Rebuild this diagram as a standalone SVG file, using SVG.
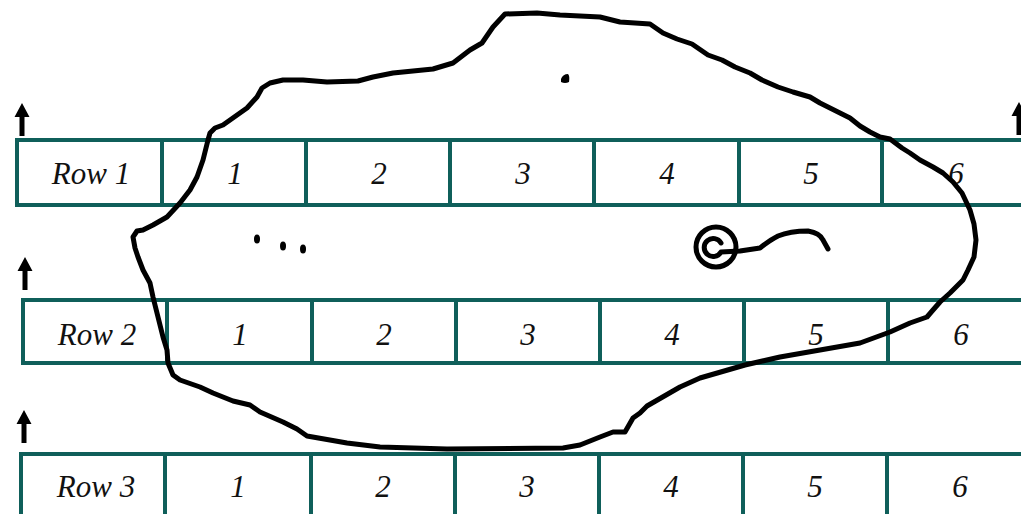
<svg xmlns="http://www.w3.org/2000/svg" width="1021" height="514" viewBox="0 0 1021 514">
<style>
.cell{fill:#ffffff;stroke:#0f5f5a;stroke-width:4}
.div{stroke:#0f5f5a;stroke-width:4}
.t{font-family:"Liberation Serif",serif;font-style:italic;font-size:31px;fill:#111;text-anchor:middle}
.ink{fill:none;stroke:#000;stroke-width:5;stroke-linejoin:round;stroke-linecap:round}
.arr{fill:#000}
</style>
<defs>
<path id="arrow" d="M0,0 L7.5,14 L2.5,14 L2.5,33 L-2.5,33 L-2.5,14 L-7.5,14 Z"/>
</defs>
<rect width="1021" height="514" fill="#ffffff"/>

<g id="row1">
<rect class="cell" x="17" y="140" width="1020" height="65"/>
<path class="div" d="M162,140V205M306,140V205M450,140V205M594,140V205M739,140V205M882,140V205"/>
<text class="t" x="91" y="184">Row 1</text>
<text class="t" x="235" y="184">1</text>
<text class="t" x="379" y="184">2</text>
<text class="t" x="523" y="184">3</text>
<text class="t" x="667" y="184">4</text>
<text class="t" x="811" y="184">5</text>
<text class="t" x="956" y="184">6</text>
</g>

<g id="row2">
<rect class="cell" x="23" y="300" width="1020" height="63"/>
<path class="div" d="M167,300V363M312,300V363M456,300V363M600,300V363M744,300V363M888,300V363"/>
<text class="t" x="97" y="345">Row 2</text>
<text class="t" x="240" y="345">1</text>
<text class="t" x="384" y="345">2</text>
<text class="t" x="528" y="345">3</text>
<text class="t" x="672" y="345">4</text>
<text class="t" x="816" y="345">5</text>
<text class="t" x="961" y="345">6</text>
</g>

<g id="row3">
<rect class="cell" x="21" y="454" width="1020" height="70"/>
<path class="div" d="M165,454V524M311,454V524M455,454V524M599,454V524M743,454V524M887,454V524"/>
<text class="t" x="96" y="497">Row 3</text>
<text class="t" x="238" y="497">1</text>
<text class="t" x="383" y="497">2</text>
<text class="t" x="527" y="497">3</text>
<text class="t" x="671" y="497">4</text>
<text class="t" x="815" y="497">5</text>
<text class="t" x="960" y="497">6</text>
</g>

<g id="arrows">
<use href="#arrow" class="arr" x="22" y="103"/>
<use href="#arrow" class="arr" x="25" y="257"/>
<use href="#arrow" class="arr" x="24" y="410"/>
<use href="#arrow" class="arr" x="1019" y="102"/>
</g>

<g id="outline">
<path class="ink" d="M208,140 L210,133 L215,128 L223,125 L247,108 L257,97 L262,88 L270,83 L283,80 L303,80 L327,82 L358,81 L373,77 L393,73 L433,69 L453,63 L470,50 L482,43 L493,27 L505,14 L537,13 L560,15 L600,17 L620,22 L650,24 L663,33 L677,39 L692,44 L708,55 L722,60 L735,67 L750,73 L762,80 L778,87 L793,92 L810,97 L820,103 L840,113 L850,118 L860,126 L870,132 L880,137 L890,139 L902,148 L910,153 L920,160 L933,167 L943,173 L953,182 L962,193 L970,210 L974,224 L976,240 L974,257 L968,270 L963,280 L950,293 L940,302 L933,310 L927,317 L910,323 L890,332 L860,343 L820,350 L780,357 L745,365 L700,378 L680,387 L647,406 L640,413 L633,418 L625,432 L613,432 L600,437 L580,445 L563,448 L447,449 L380,447 L347,443 L307,436 L297,429 L283,422 L260,412 L250,405 L233,401 L213,393 L200,387 L180,380 L173,375 L168,363 L167,350 L163,337 L158,317 L153,297 L150,283 L143,270 L138,257 L135,248 L133,237 L137,231 L143,230 L153,225 L167,217 L180,203 L190,190 L197,177 L203,160 Z"/>
</g>

<g id="marks">
<ellipse cx="257" cy="239" rx="3" ry="4.5" fill="#000"/>
<ellipse cx="283" cy="246" rx="3" ry="4.5" fill="#000"/>
<ellipse cx="303" cy="249" rx="3" ry="4.5" fill="#000"/>
<path d="M561,79 Q563,74 568,74 Q570,76 569,82 Q565,84 561,82 Z" fill="#000"/>
</g>

<g id="spiral">
<circle class="ink" cx="716" cy="247" r="20"/>
<path class="ink" d="M721,243 A9,9 0 1 0 721,252 L740,251 L760,248 Q770,240 778,236 Q790,231 808,231 Q820,233 823,240 L828,249"/>
</g>
</svg>
